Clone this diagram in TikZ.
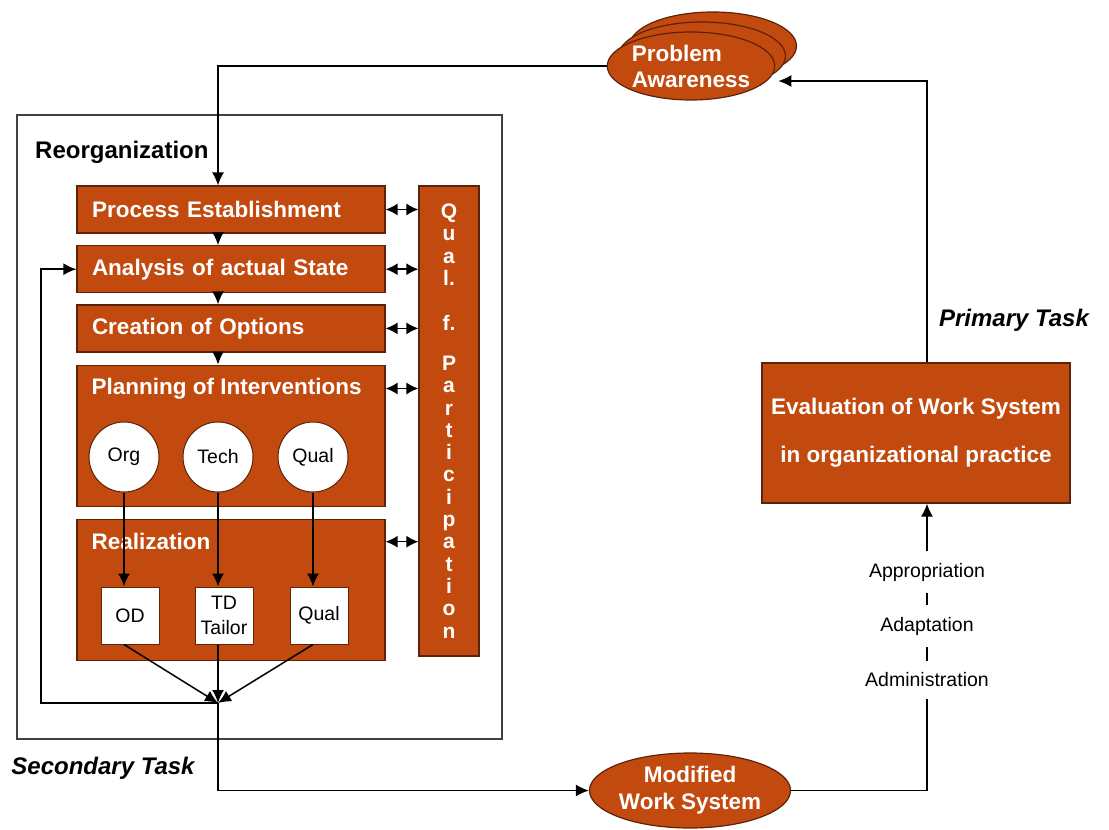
\documentclass[tikz,border=0pt]{standalone}
\usepackage{fontspec}
\setmainfont{Liberation Sans}
\usetikzlibrary{positioning,arrows.meta,shapes.geometric}
\definecolor{rust}{RGB}{194,74,14}
\definecolor{rustline}{RGB}{92,34,10}

\begin{document}
\begin{tikzpicture}[x=1pt, y=-1pt,
  every node/.style={inner sep=0pt, font=\fontsize{22.5}{26}\selectfont\bfseries},
  stage/.style={draw=rustline, line width=1.2pt, fill=rust, text=white,
    text width=278pt, inner xsep=15pt, minimum height=47pt, align=left},
  bigstage/.style={draw=rustline, line width=1.2pt, fill=rust,
    minimum width=308pt, minimum height=141pt},
  stagetitle/.style={text=white, anchor=west},
  blob/.style={ellipse, draw=rustline, line width=1.2pt, fill=rust, text=white},
  topic/.style={circle, draw=rustline, line width=1pt, fill=white, minimum size=70pt,
    font=\fontsize{19.5}{24}\selectfont\mdseries},
  result/.style={draw=rustline, line width=1pt, fill=white, minimum width=58pt,
    minimum height=57pt, align=center, font=\fontsize{19.5}{25}\selectfont\mdseries},
  step label/.style={fill=white, inner xsep=2pt, inner ysep=12pt,
    font=\fontsize{19.5}{24}\selectfont\mdseries},
  task/.style={font=\fontsize{24}{28}\selectfont\bfseries\itshape},
  arr/.style={-{Latex[length=13pt,width=12pt]}, line width=1.5pt},
  dbl/.style={{Latex[length=12pt,width=12pt]}-{Latex[length=12pt,width=12pt]}, line width=1.5pt}]
\useasboundingbox (0,0) rectangle (1109,830);

% secondary task frame
\draw[line width=1.4pt, black!75] (17,115) rectangle (502,739);
\node[anchor=west, font=\fontsize{24}{28}\selectfont\bfseries] (reorg) at (35,152) {Reorganization};
\node[task] (sectask) at (103,768) {Secondary Task};

% stages of the reorganization
\node[stage] (process) at (231,209.5) {Process Establishment};
\node[stage, below=11.5pt of process] (analysis) {Analysis of actual State};
\node[stage, below=11pt of analysis] (creation) {Creation of Options};
\node[bigstage, below=12pt of creation] (plan) {};
\node[bigstage, below=12pt of plan] (real) {};
\node[stagetitle] (plantitle) at ([shift={(15,24)}]plan.north west) {Planning of Interventions};
\node[stagetitle] (realtitle) at ([shift={(15,23)}]real.north west) {Realization};

\node[draw=rustline, line width=1.2pt, fill=rust, text=white, minimum width=60pt,
  minimum height=470pt, align=center, font=\fontsize{21}{22.3}\selectfont\bfseries]
  (qual) at (449,421)
  {Q\\u\\a\\l.\\[22.7pt]f.\\[17.7pt]P\\a\\r\\t\\i\\c\\i\\p\\a\\t\\i\\o\\n};

% planning topics and results
\node[topic] (org) at (124,457) {Org};
\node[topic] (tech) at (218,457) {Tech};
\node[topic] (qualp) at (313,457) {Qual};
\node[result] (od) at (130,615.5) {OD};
\node[result] (td) at (224,615.5) {TD\\Tailor};
\node[result] (qualr) at (319,615.5) {Qual};
\coordinate (merge) at (218,703);
\coordinate (loop) at (41,703);

% primary task side
\node[blob, minimum width=167pt, minimum height=68pt] (pa3) at (713,46) {};
\node[blob, minimum width=167pt, minimum height=68pt] (pa2) at (702,56) {};
\node[blob, minimum width=167pt, minimum height=68pt, align=left,
  font=\fontsize{22.5}{26}\selectfont\bfseries] (pa) at (691,66) {Problem\\Awareness};
\node[blob, minimum width=165pt, minimum height=75pt, align=center,
  font=\fontsize{22.5}{27}\selectfont\bfseries] (mws) at (690,790.5) {Modified\\Work System};
\node[draw=rustline, line width=1.2pt, fill=rust, text=white, minimum width=308pt,
  minimum height=140pt, align=center, font=\fontsize{22.5}{48}\selectfont\bfseries]
  (eval) at (916,433) {Evaluation of Work System\\in organizational practice};
\node[task] (primtask) at (1014,320) {Primary Task};

% flow through the stages
\draw[arr] (pa.west) -| (tech |- process.north);
\draw[arr] (tech |- process.south) -- (tech |- analysis.north);
\draw[arr] (tech |- analysis.south) -- (tech |- creation.north);
\draw[arr] (tech |- creation.south) -- (tech |- plan.north);
% participation links
\draw[dbl] (process.east) -- (process.east -| qual.west);
\draw[dbl] (analysis.east) -- (analysis.east -| qual.west);
\draw[dbl] (creation.east) -- (creation.east -| qual.west);
\draw[dbl] (plan.east |- plantitle) -- (qual.west |- plantitle);
\draw[dbl] (real.east |- realtitle) -- (qual.west |- realtitle);
% topics to results
\draw[arr] (org.south) -- (org |- od.north);
\draw[arr] (tech.south) -- (tech |- td.north);
\draw[arr] (qualp.south) -- (qualp |- qualr.north);
\draw[arr] (org |- od.south) -- (merge);
\draw[arr] (tech |- td.south) -- (merge);
\draw[arr] (qualp |- qualr.south) -- (merge);
% feedback and output
\draw[arr] (merge) -- (loop) |- (analysis.west);
\draw[arr] (merge) |- (mws.west);
\draw[arr] (mws.east) -| ([xshift=11pt]eval.south);
\draw[arr] ([xshift=11pt]eval.north) |- ([shift={(3,15)}]pa.east);

% kinds of use
\node[step label] (appr) at (927,572) {Appropriation};
\node[step label] (adapt) at (927,626) {Adaptation};
\node[step label] (admin) at (927,680) {Administration};
\end{tikzpicture}
\end{document}
